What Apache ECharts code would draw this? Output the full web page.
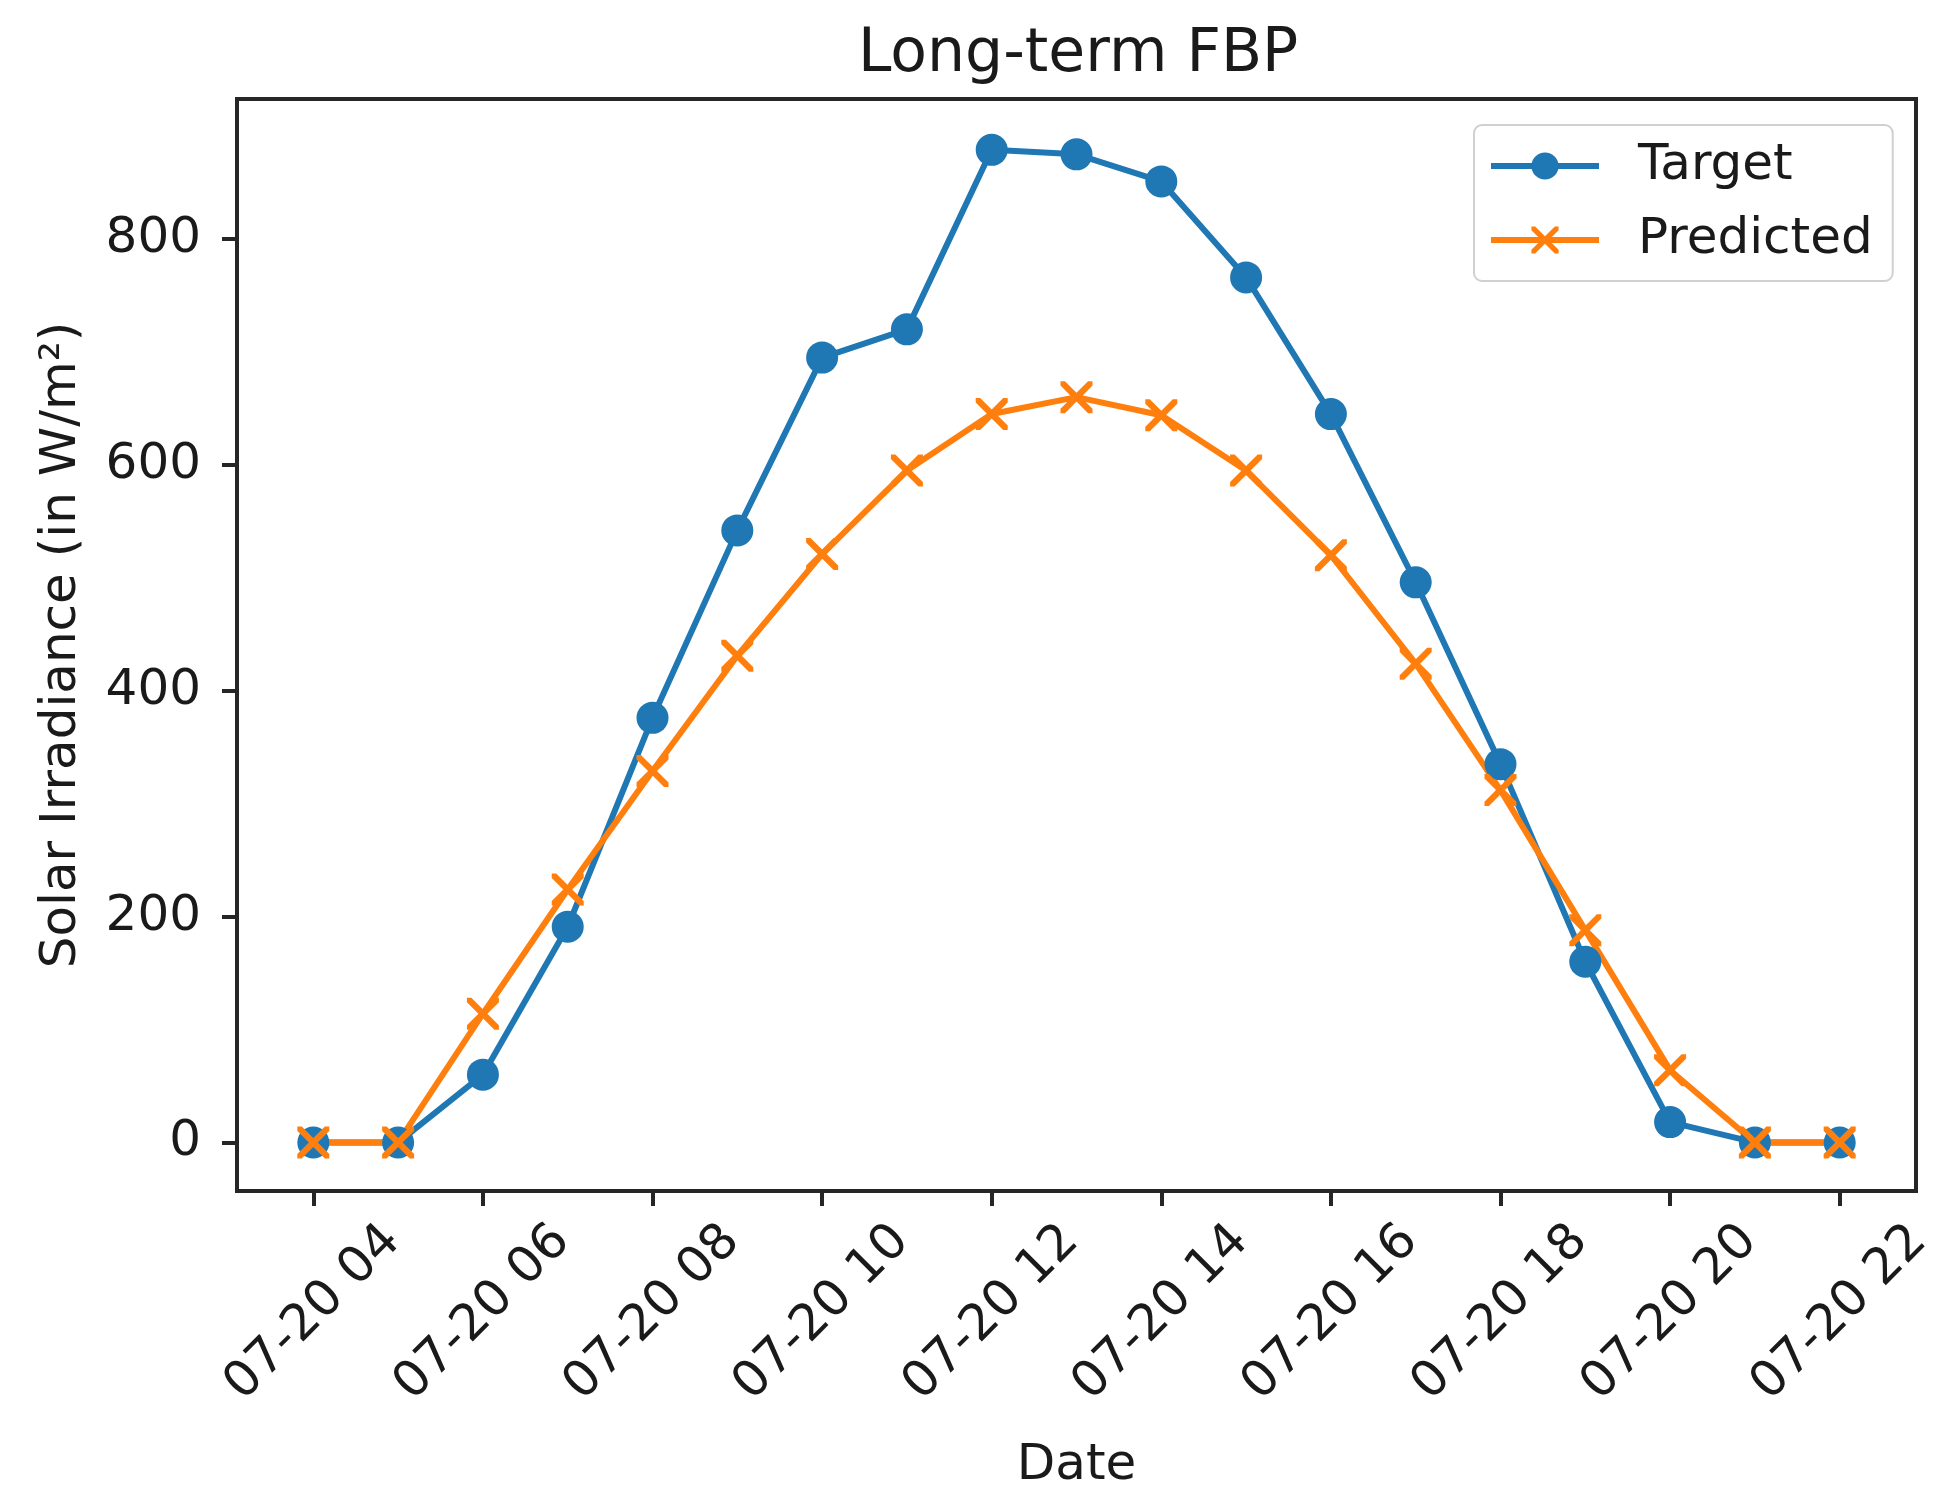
<!DOCTYPE html>
<html>
<head>
<meta charset="utf-8">
<script src="https://cdn.jsdelivr.net/npm/echarts@6/dist/echarts.min.js"></script>
<style>
html,body{margin:0;padding:0;background:#fff;}
#chart{width:1949px;height:1511px;}
</style>
</head>
<body>
<div id="chart"></div>
<script>
// ---- data ----
const hours = [4,5,6,7,8,9,10,11,12,13,14,15,16,17,18,19,20,21,22];
const target = [0,0,60,191,376,542,695,720,879,875,851,766,645,496,335,160,18,0,0];
const predicted = [0,0,114,224,329,431,521,595,645,660,644,595,520,424,312,188,64,0,0];
const tickHours = [4,6,8,10,12,14,16,18,20,22];
const tickLabels = ['07-20 04','07-20 06','07-20 08','07-20 10','07-20 12','07-20 14','07-20 16','07-20 18','07-20 20','07-20 22'];
const yTicks = [0,200,400,600,800];

const FONT = 'DejaVu Sans';
const TXT = '#1a1a1a';
const FRAME = '#262626';
const BLUE = '#1f77b4';
const ORANGE = '#ff7f0e';
const XPATH = 'path://M0,0 L14,0 L50,36 L86,0 L100,0 L100,14 L64,50 L100,86 L100,100 L86,100 L50,64 L14,100 L0,100 L0,86 L36,50 L0,14 Z';

const chart = echarts.init(document.getElementById('chart'), null, {renderer:'canvas'});
chart.setOption({
  backgroundColor:'#fff',
  animation:false,
  title:{
    text:'Long-term FBP',
    left:853, top:20,
    textStyle:{fontFamily:FONT,fontSize:60,fontWeight:'normal',color:TXT}
  },
  legend:{
    orient:'vertical',
    left:1474, top:125,
    padding:[16,20,16,14],
    itemWidth:108, itemHeight:34, itemGap:24,
    backgroundColor:'#fff',
    borderColor:'#d0d0d0', borderWidth:2, borderRadius:8,
    lineStyle:{width:6},
    textStyle:{fontFamily:FONT,fontSize:50,color:TXT,padding:[0,0,0,34]},
    data:['Target','Predicted']
  },
  grid:{
    left:237, right:33, top:99, bottom:320,
    show:true, borderColor:FRAME, borderWidth:4, backgroundColor:'transparent',
    containLabel:false
  },
  xAxis:{
    type:'value', min:3.1, max:22.9,
    name:'Date', nameLocation:'middle', nameGap:250,
    nameTextStyle:{fontFamily:FONT,fontSize:50,color:TXT},
    axisLine:{show:false,onZero:false},
    splitLine:{show:false},
    axisTick:{show:true,length:15,lineStyle:{color:FRAME,width:4},customValues:tickHours},
    axisLabel:{
      customValues:tickHours,
      rotate:45, align:'center', verticalAlign:'middle', margin:122,
      hideOverlap:false,
      fontFamily:FONT,fontSize:50,color:TXT,
      formatter:function(v){const i=tickHours.indexOf(Math.round(v));return i>=0?tickLabels[i]:'';}
    }
  },
  yAxis:{
    type:'value', min:-43, max:924,
    name:'Solar Irradiance (in W/m²)', nameLocation:'middle', nameGap:150,
    nameTextStyle:{fontFamily:FONT,fontSize:50,color:TXT},
    axisLine:{show:false,onZero:false},
    splitLine:{show:false},
    axisTick:{show:true,length:15,lineStyle:{color:FRAME,width:4},customValues:yTicks},
    axisLabel:{customValues:yTicks,margin:36,fontFamily:FONT,fontSize:50,color:TXT,hideOverlap:false}
  },
  series:[
    {
      name:'Target', type:'line',
      data:hours.map((h,i)=>[h,target[i]]),
      symbol:'circle', symbolSize:32, showAllSymbol:true,
      lineStyle:{color:BLUE,width:6},
      itemStyle:{color:BLUE,borderWidth:0}
    },
    {
      name:'Predicted', type:'line',
      data:hours.map((h,i)=>[h,predicted[i]]),
      symbol:XPATH, symbolSize:32, showAllSymbol:true,
      lineStyle:{color:ORANGE,width:6},
      itemStyle:{color:ORANGE,borderWidth:0}
    }
  ]
});
</script>
</body>
</html>
